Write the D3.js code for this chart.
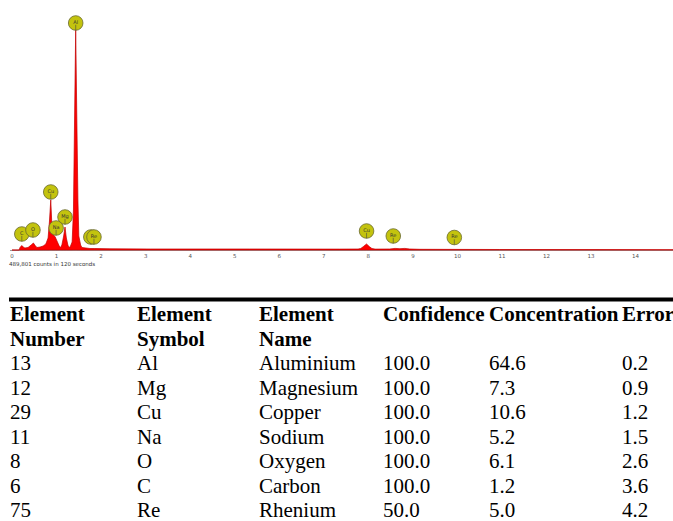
<!DOCTYPE html>
<html><head><meta charset="utf-8">
<script src="https://cdn.jsdelivr.net/npm/d3@7"></script>
<style>html,body{margin:0;padding:0;background:#fff;overflow:hidden}</style>
</head><body>
<svg id="c" width="673" height="521"></svg>
<script>
// Spectrum (energy keV, counts in relative units)
const energy = [0,0.16,0.18,0.22,0.25,0.29,0.36,0.43,0.48,0.52,0.56,0.63,0.70,0.76,0.81,0.84,0.87,0.89,0.92,0.97,1.01,1.06,1.09,1.12,1.16,1.19,1.22,1.26,1.30,1.35,1.38,1.41,1.43,1.45,1.48,1.50,1.54,1.57,1.66,1.75,1.86,2.2,3.1,5.34,7.36,7.77,7.83,7.89,7.96,8.02,8.08,8.15,8.48,8.60,8.71,8.82,8.93,9.16,10.95,13.2,14.84];
const counts = [0,0,2.5,4.5,3,2,2.5,5,7,4.5,2.5,3,4,6,12,28,50,30,16,13,9,4,2.5,5,14,23,12,4,2.5,8,40,150,221,150,50,14,5,2.5,2,1.5,1.5,1.2,1,1,0.9,1,1.5,3.5,6,3.5,1.5,0.9,1,1.6,1.3,1.6,1,0.7,0.5,0.4,0.3];
const xTicks = [0,1,2,3,4,5,6,7,8,9,10,11,12,13,14];
const countsNote = "489,801 counts in 120 seconds";

// Peak markers
const markerLabels = ["Al","Cu","Mg","Na","C","O","Re","Re","Cu","Re","Re"];
const markerEnergy = [1.43,0.87,1.19,0.99,0.22,0.47,1.77,1.84,7.96,8.56,9.93];
const markerHeight = [227,58,33,22,16,20,13,13,19,14,12.5];

// Table
const headers = [["Element","Number"],["Element","Symbol"],["Element","Name"],["Confidence",""],["Concentration",""],["Error",""]];
const elNumber = ["13","12","29","11","8","6","75"];
const elSymbol = ["Al","Mg","Cu","Na","O","C","Re"];
const elName = ["Aluminium","Magnesium","Copper","Sodium","Oxygen","Carbon","Rhenium"];
const confidence = ["100.0","100.0","100.0","100.0","100.0","100.0","50.0"];
const concentration = ["64.6","7.3","10.6","5.2","6.1","1.2","5.0"];
const errorVals = ["0.2","0.9","1.2","1.5","2.6","3.6","4.2"];

const svg = d3.select("#c");
const x = d3.scaleLinear().domain([0,14.84]).range([12,673]);
const y = d3.scaleLinear().domain([0,240]).range([250,10]);

// axis line
svg.append("line").attr("x1",10).attr("x2",673).attr("y1",250.5).attr("y2",250.5)
  .attr("stroke","#9a9a9a").attr("stroke-width",1);

const pts = energy.map((e,i)=>[e,counts[i]]);
const area = d3.area().x(d=>x(d[0])).y0(y(0)).y1(d=>y(d[1]));
svg.append("path").datum(pts).attr("d",area).attr("fill","#ff0000")
  .attr("stroke","#c00000").attr("stroke-width",0.7).attr("stroke-linejoin","round");

// ticks
svg.append("g").selectAll("text").data(xTicks).join("text")
  .attr("x",d=>x(d)).attr("y",258).attr("text-anchor","middle")
  .attr("font-family","DejaVu Sans").attr("font-size",5.5).attr("fill","#555")
  .text(d=>d);
svg.append("text").attr("x",9).attr("y",265.5).attr("font-family","DejaVu Sans")
  .attr("font-size",5.5).attr("fill","#333").text(countsNote);

// markers
const mk = svg.append("g").selectAll("g").data(markerLabels.map((l,i)=>({l,e:markerEnergy[i],h:markerHeight[i]})))
  .join("g").attr("transform",d=>`translate(${x(d.e)},${y(d.h)})`);
mk.append("circle").attr("r",7.3).attr("fill","#c3c30e").attr("stroke","#6a6a30").attr("stroke-width",0.8);
mk.append("text").attr("y",0.5).attr("text-anchor","middle").attr("font-family","DejaVu Sans")
  .attr("font-size",5).attr("fill","#333").text(d=>d.l);
mk.append("line").attr("x1",0).attr("x2",0).attr("y1",1.8).attr("y2",7.3).attr("stroke","#444").attr("stroke-width",0.6);

// table
svg.append("rect").attr("x",9).attr("y",297.5).attr("width",664).attr("height",4).attr("fill","#000");
const colX = [10,137,259,383,489,622];
const base0 = 321, rowH = 24.5;
const font = "Liberation Serif, Times New Roman, serif";
headers.forEach((h,c)=>{
  h.forEach((t,r)=>{
    if(!t) return;
    svg.append("text").attr("x",colX[c]).attr("y",base0+r*rowH).attr("font-family",font)
      .attr("font-size",21).attr("font-weight","bold").attr("fill","#000").text(t);
  });
});
const cols = [elNumber,elSymbol,elName,confidence,concentration,errorVals];
cols.forEach((col,c)=>{
  svg.append("g").selectAll("text").data(col).join("text")
    .attr("x",colX[c]).attr("y",(d,i)=>base0+(i+2)*rowH).attr("font-family",font)
    .attr("font-size",21).attr("fill","#000").text(d=>d);
});
</script>
</body></html>
